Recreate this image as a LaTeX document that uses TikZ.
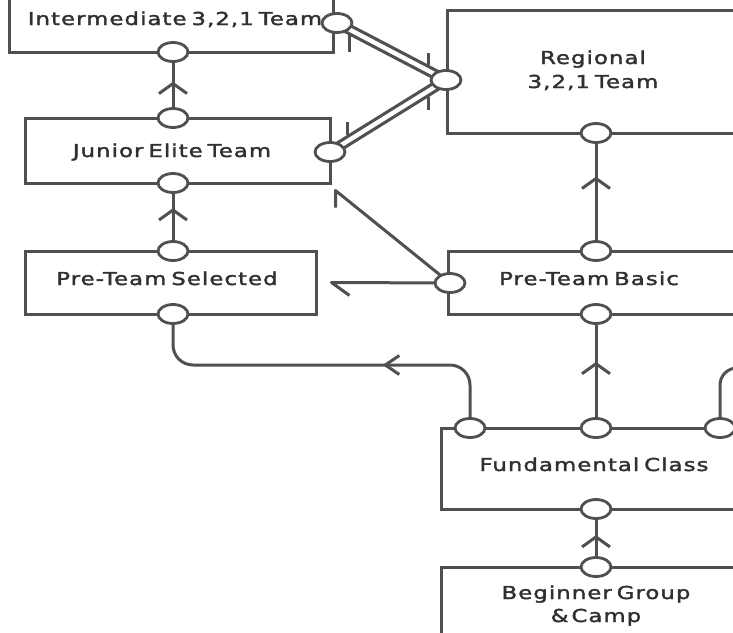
\documentclass[tikz,border=0pt]{standalone}
\usepackage{fontspec}
\setmainfont{DejaVu Sans}[FakeStretch=1.28,LetterSpace=6,WordSpace=0.6,FakeBold=2]
\usetikzlibrary{shapes.geometric,arrows.meta,decorations.markings,calc,backgrounds}
\definecolor{ln}{HTML}{505050}
\definecolor{tx}{HTML}{303030}
\begin{document}
\begin{tikzpicture}[x=1pt,y=-1pt,
  box/.style={draw=ln, line width=3pt, rectangle, inner sep=0pt},
  port/.style={draw=ln, fill=white, line width=2.8pt, ellipse, minimum width=30pt, minimum height=19pt, inner sep=0pt},
  lbl/.style={text=tx, font=\fontsize{17.8}{23}\selectfont, inner sep=0pt, anchor=base},
  conn/.style={draw=ln, line width=3pt, line join=round},
  dbl/.style={draw=ln, line width=3.2pt, double=white, double distance=4.4pt},
  tick/.style={draw=ln, line width=3pt},
  vchev/.style={postaction={decorate}, decoration={markings, mark=at position #1 with {\arrow[ln]{Straight Barb[length=10pt,width=28pt]}}}},
  hchev/.style={postaction={decorate}, decoration={markings, mark=at position #1 with {\arrow[ln]{Straight Barb[length=14pt,width=19pt]}}}}
]
\useasboundingbox (0,0) rectangle (733,632);

% boxes
\node[box, minimum width=324pt, minimum height=112pt] (inter) at (171,-4) {};
\node[box, minimum width=305pt, minimum height=65pt] (junior) at (177.5,150.5) {};
\node[box, minimum width=291pt, minimum height=63pt] (pts) at (170.5,282.5) {};
\node[box, minimum width=373pt, minimum height=123pt] (regional) at (633.5,71.5) {};
\node[box, minimum width=372pt, minimum height=63pt] (ptb) at (634,282.5) {};
\node[box, minimum width=379pt, minimum height=81pt] (fund) at (630.5,468.5) {};
\node[box, minimum width=379pt, minimum height=133pt] (beg) at (630.5,633.5) {};

% labels
\node[lbl] (intert) at (175,25) {Intermediate 3,2,1 Team};
\node[lbl] (juniort) at (172,157) {Junior Elite Team};
\node[lbl] (ptst) at (167,285) {Pre-Team Selected};
\node[lbl] (regt1) at (593,64) {Regional};
\node[lbl] (regt2) at (593,88) {3,2,1 Team};
\node[lbl] (ptbt) at (589,285) {Pre-Team Basic};
\node[lbl] (fundt) at (594,471) {Fundamental Class};
\node[lbl] (begt1) at (596,599) {Beginner Group};
\node[lbl] (begt2) at (596,622) {\&\,Camp};

% ports
\node[port] (ib) at (173,52) {};
\node[port] (ir) at (337,23) {};
\node[port] (jt) at (173,118) {};
\node[port] (jb) at (173,183) {};
\node[port] (jr) at (330,152) {};
\node[port] (st) at (173,251) {};
\node[port] (sb) at (173,314) {};
\node[port] (rl) at (446,80) {};
\node[port] (rb) at (596,133) {};
\node[port] (bt) at (596,251) {};
\node[port] (bb) at (596,314) {};
\node[port] (bl) at (450,283) {};
\node[port] (ft1) at (470,428) {};
\node[port] (ft2) at (596,428) {};
\node[port] (ft3) at (720,428) {};
\node[port] (fb) at (596,509) {};
\node[port] (gt) at (596,567) {};

\coordinate (jcorner) at ($(junior.south east)+(4,6)$);
\coordinate (sarr) at ($(pts.east)+(14,0)$);

\begin{scope}[on background layer]
  % vertical links with chevrons
  \draw[conn, vchev=0.55] (jt.center) -- (ib.center);
  \draw[conn, vchev=0.63] (st.center) -- (jb.center);
  \draw[conn, vchev=0.63] (bt.center) -- (rb.center);
  \draw[conn, vchev=0.58] (ft2.center) -- (bb.center);
  \draw[conn, vchev=0.55] (gt.center) -- (fb.center);
  % curved link to Pre-Team Selected
  \draw[conn, rounded corners=20, hchev=0.36] (ft1.center) -- (ft1.center |- 0,365) -- (sb.center |- 0,365) -- (sb.center);
  % curve leaving to the right
  \draw[conn, rounded corners=17] (ft3.center) -- ++(0,-60) -- ++(60,0);
  % double links
  \draw[dbl] (ir.center) -- (rl.center);
  \draw[dbl] (jr.center) -- (rl.center);
  \draw[tick] ($(ir.center)+(12,12)$) -- ++(0,17);
  \draw[tick] ($(rl.center)+(-18,-27)$) -- ++(0,12);
  \draw[tick] ($(jr.center)+(17,-30)$) -- ++(0,13);
  \draw[tick] ($(rl.center)+(-18,17)$) -- ++(0,13);
  % single links from Pre-Team Basic
  \draw[conn] (bl.center) -- (jcorner) -- ++(0,17);
  \draw[conn] (bl.center) -- (sarr) -- ++(18,13);
\end{scope}
\end{tikzpicture}
\end{document}
